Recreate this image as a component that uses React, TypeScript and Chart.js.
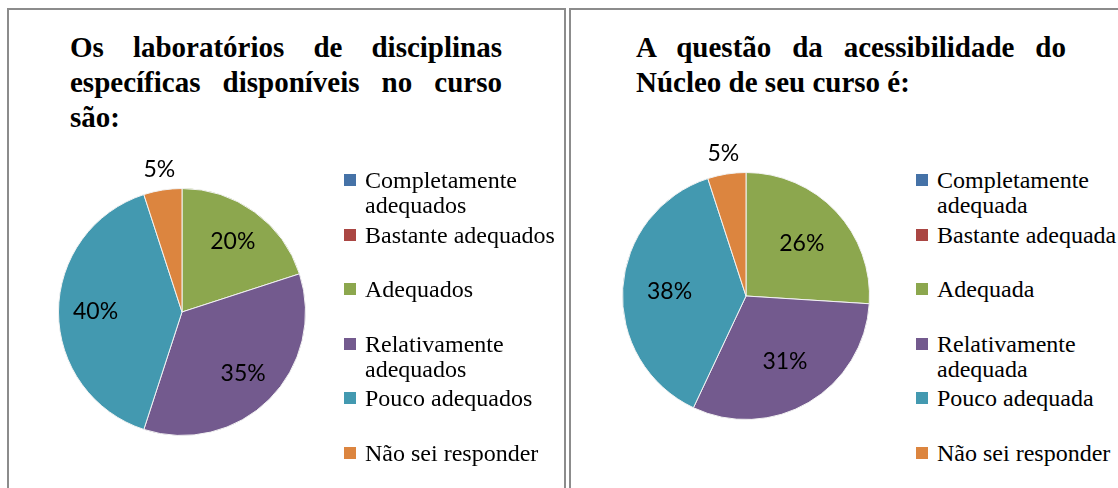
import React, { useEffect, useRef } from "react";
import { Chart, registerables } from "chart.js";

Chart.register(...registerables);

// ---- Data ----
const titleLeft = "Os laboratórios de disciplinas específicas disponíveis no curso são:";
const titleRight = "A questão da acessibilidade do Núcleo de seu curso é:";

const categoriesLeft = [
  "Completamente adequados",
  "Bastante adequados",
  "Adequados",
  "Relativamente adequados",
  "Pouco adequados",
  "Não sei responder",
];
const categoriesRight = [
  "Completamente adequada",
  "Bastante adequada",
  "Adequada",
  "Relativamente adequada",
  "Pouco adequada",
  "Não sei responder",
];
const valuesLeft = [0, 0, 20, 35, 40, 5];
const valuesRight = [0, 0, 26, 31, 38, 5];

const sliceColors = ["#4572A7", "#AA4643", "#8CA74E", "#735A8E", "#4399B0", "#DC853F"];

const pctPlugin = {
  id: "pctLabels",
  afterDatasetsDraw(chart: any, _args: any, opts: any) {
    const ctx = chart.ctx;
    const meta = chart.getDatasetMeta(0);
    const data: number[] = chart.data.datasets[0].data;
    const total = data.reduce((a, b) => a + b, 0);
    ctx.save();
    ctx.font = "23px Lato, 'Open Sans', sans-serif";
    ctx.fillStyle = "#000";
    ctx.textAlign = "center";
    ctx.textBaseline = "middle";
    meta.data.forEach((arc: any, i: number) => {
      const v = data[i];
      if (!v) return;
      const p = arc.getProps(["x", "y", "startAngle", "endAngle", "outerRadius"], true);
      const mid = (p.startAngle + p.endAngle) / 2;
      const f = v / total < 0.08 ? opts.outside : opts.inside;
      ctx.fillText(
        Math.round((v / total) * 100) + "%",
        p.x + Math.cos(mid) * p.outerRadius * f,
        p.y + Math.sin(mid) * p.outerRadius * f
      );
    });
    ctx.restore();
  },
};

function Pie({ values, labels, cx, cy, inside }: any) {
  const ref = useRef<HTMLCanvasElement>(null);
  useEffect(() => {
    const chart = new Chart(ref.current as HTMLCanvasElement, {
      type: "pie",
      data: {
        labels,
        datasets: [
          {
            data: values,
            backgroundColor: sliceColors,
            borderColor: "#f2f2f2",
            borderWidth: 1,
          },
        ],
      },
      options: {
        responsive: false,
        animation: false,
        layout: { padding: 46 },
        plugins: {
          legend: { display: false },
          tooltip: { enabled: false },
          pctLabels: { inside, outside: 1.17 },
        } as any,
      },
      plugins: [pctPlugin],
    });
    return () => chart.destroy();
  }, []);
  return (
    <canvas
      ref={ref}
      width={340}
      height={340}
      style={{ position: "absolute", left: cx - 170, top: cy - 170, width: 340, height: 340 }}
    />
  );
}

function Legend({ labels, left, width }: any) {
  return (
    <>
      {labels.map((l: string, i: number) => (
        <div
          key={i}
          style={{
            position: "absolute",
            left,
            top: 168 + i * 54.6,
            width: width + 21,
            fontFamily: "'Liberation Serif', serif",
            fontSize: 24,
            lineHeight: "25px",
            color: "#000",
          }}
        >
          <span
            style={{
              position: "absolute",
              left: 0,
              top: 6,
              width: 12,
              height: 12,
              background: sliceColors[i],
            }}
          />
          <div style={{ marginLeft: 21, width }}>{l}</div>
        </div>
      ))}
    </>
  );
}

const titleStyle: any = {
  position: "absolute",
  top: 30,
  fontFamily: "'Liberation Serif', serif",
  fontWeight: "bold",
  fontSize: 29,
  lineHeight: "35px",
  textAlign: "justify",
  color: "#000",
};

export default function App() {
  return (
    <div
      style={{
        position: "absolute",
        left: 0,
        top: 0,
        width: 1118,
        height: 488,
        overflow: "hidden",
        background: "#fff",
      }}
    >
      <div
        style={{
          position: "absolute",
          left: 7,
          top: 8,
          width: 555,
          height: 520,
          border: "2px solid #8c8c8c",
        }}
      />
      <div
        style={{
          position: "absolute",
          left: 569,
          top: 8,
          width: 600,
          height: 520,
          border: "2px solid #8c8c8c",
        }}
      />
      <div style={{ ...titleStyle, left: 70, width: 432 }}>{titleLeft}</div>
      <div style={{ ...titleStyle, left: 636, width: 430 }}>{titleRight}</div>
      <Pie values={valuesLeft} labels={categoriesLeft} cx={182} cy={312} inside={0.7} />
      <Pie values={valuesRight} labels={categoriesRight} cx={746} cy={296} inside={0.62} />
      <Legend labels={categoriesLeft} left={344} width={196} />
      <Legend labels={categoriesRight} left={916} width={183} />
    </div>
  );
}
